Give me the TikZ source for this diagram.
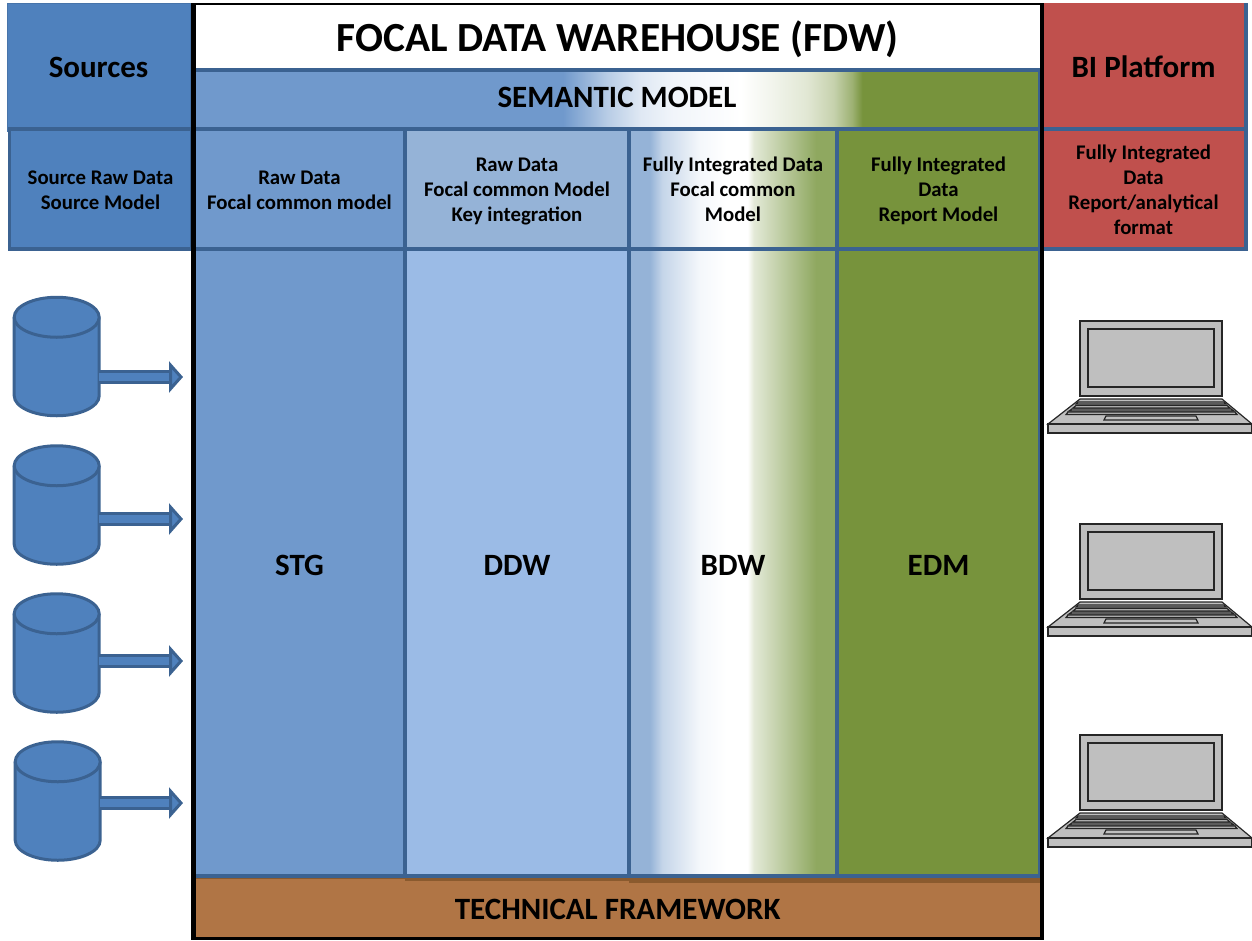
\documentclass[tikz,border=0pt]{standalone}
\usepackage{fontspec}
\setmainfont{Carlito}
\usetikzlibrary{matrix,positioning,arrows.meta}
\definecolor{srcblue}{HTML}{4F81BD}
\definecolor{edgeblue}{HTML}{3B6291}
\definecolor{stgblue}{HTML}{7099CC}
\definecolor{ddwhead}{HTML}{95B3D7}
\definecolor{ddwblue}{HTML}{9BBBE6}
\definecolor{edmgreen}{HTML}{77933C}
\definecolor{fadegreen}{HTML}{8FA860}
\definecolor{bired}{HTML}{C0504D}
\definecolor{techbrown}{HTML}{B07545}
\definecolor{techedge}{HTML}{8A5A2E}
\definecolor{lapgray}{HTML}{BFBFBF}
\pgfdeclarehorizontalshading{semanticfade}{100bp}{color(0bp)=(stgblue); color(46.8bp)=(stgblue); color(49.4bp)=(stgblue!50!white); color(51.4bp)=(stgblue!22!white); color(53.3bp)=(stgblue!10!white); color(57.3bp)=(white); color(59.2bp)=(edmgreen!10!white); color(61.2bp)=(edmgreen!22!white); color(62.8bp)=(edmgreen!42!white); color(63.9bp)=(edmgreen!72!white); color(64.5bp)=(edmgreen); color(100bp)=(edmgreen)}
\pgfdeclarehorizontalshading{bdwfade}{100bp}{color(0bp)=(ddwhead); color(30bp)=(ddwhead); color(33bp)=(ddwhead!55!white); color(42bp)=(white!90!ddwhead); color(48.5bp)=(white); color(53.5bp)=(white); color(55bp)=(fadegreen!25!white); color(70bp)=(fadegreen); color(100bp)=(fadegreen)}
\newcommand{\stacked}[2][-2.5pt]{\raisebox{#1}[\height][\depth]{\begin{tabular}{@{}c@{}}#2\end{tabular}}}
\begin{document}
\begin{tikzpicture}[x=1pt,y=-1pt,
            headbig/.style={font=\bfseries\fontsize{31}{35}\selectfont},
            headsmall/.style={font=\bfseries\fontsize{20.8}{25}\selectfont},
            box/.style={rectangle,draw=edgeblue,line width=3.5pt,anchor=north west,inner sep=0pt,outer sep=0pt},
            columns/.style={matrix of nodes,inner sep=0pt,line width=3.5pt,row sep=-\pgflinewidth,column sep=-\pgflinewidth,
               nodes={rectangle,draw=edgeblue,line width=3.5pt,inner sep=0pt},
               row 1/.style={nodes={minimum height=120pt,font=\bfseries\fontsize{20.8}{25}\selectfont}},
               row 2/.style={nodes={minimum height=627pt,text height=26pt,font=\bfseries\fontsize{31}{35}\selectfont}},
               column 1/.style={nodes={minimum width=211pt}},column 2/.style={nodes={minimum width=224pt}},
               column 3/.style={nodes={minimum width=208pt}},column 4/.style={nodes={minimum width=203pt}}},
            store/.pic={
               \node (-body)[rectangle,inner sep=0pt,outer sep=0pt,minimum width=85pt,minimum height=118.5pt] {};
               \path[draw=edgeblue,fill=srcblue,line width=3pt] (-42.5,-39.25) -- (-42.5,39.25) arc (180:0:42.5 and 20) -- (42.5,-39.25);
               \path[draw=edgeblue,fill=srcblue,line width=3pt] (0,-39.25) ellipse (42.5 and 20);
            },
            feed/.style={draw=edgeblue,line width=3pt,double=srcblue,double distance=8pt,-{Triangle[length=14pt,width=31pt,line width=3pt,color=edgeblue,fill=srcblue]}},
            wall/.style={draw=black,line width=5pt},
            laptop/.pic={
               \path[draw=black!85,fill=lapgray,line width=1.2pt] (0,0) rectangle (142,75);
               \path[draw=black!85,fill=lapgray,line width=1.5pt] (8,8) rectangle (134,66);
               \path[draw=black!85,fill=lapgray,line width=1.2pt] (0,78) -- (142,78) -- (172,103) -- (-32,103) -- cycle;
               \path[draw=black!85,fill=lapgray,line width=1.2pt] (-2,81) -- (144,81) -- (146,83) -- (-4,83) -- cycle;
               \path[draw=black!85,fill=lapgray,line width=1.2pt] (-4,84.5) -- (147,84.5) -- (150,87) -- (-7,87) -- cycle;
               \path[draw=black!85,fill=lapgray,line width=1.2pt] (-8,88) -- (151,88) -- (154,90) -- (-11,90) -- cycle;
               \path[draw=black!85,fill=lapgray,line width=1.2pt] (-12,91) -- (155,91) -- (157,93.5) -- (-14,93.5) -- cycle;
               \path[draw=black!85,fill=lapgray,line width=1.2pt] (26,95) -- (116,95) -- (118,99) -- (24,99) -- cycle;
               \path[draw=black!85,fill=lapgray,line width=1.2pt] (-32,103) rectangle (172,112);
            }]

            \useasboundingbox (0,0) rectangle (1252,940);

            \node (sources)[box,draw=srcblue!90!black,line width=1pt,fill=srcblue,minimum width=183pt,minimum height=128pt,headbig] at (7,3) {Sources};
            \node (srcmodel)[box,fill=srcblue,minimum width=182pt,minimum height=120pt,headsmall] at (9.5,129) {\stacked{Source Raw Data\\Source Model}};

            \node (biplat)[box,fill=bired,draw=bired,line width=1pt,minimum width=205pt,minimum height=128pt,headbig] at (1041,3) {BI Platform};
            \node (bimodel)[box,fill=bired,minimum width=205pt,minimum height=120pt,headsmall] at (1041,129) {\stacked{Fully Integrated\\Data\\Report/analytical\\format}};
            \draw[edgeblue,line width=3.5pt] (biplat.north east) -- (bimodel.north east);

            \node (title)[anchor=north west,fill=white,inner sep=0pt,minimum width=845pt,minimum height=69pt,font=\bfseries\fontsize{41.4}{46}\selectfont] at (195,5) {FOCAL DATA WAREHOUSE (FDW)};
            \node (semantic)[box,shading=semanticfade,minimum width=846pt,minimum height=59pt,headbig,text depth=4pt,text height=20pt] at (194,70) {SEMANTIC MODEL};

            \node (tech)[anchor=north west,fill=techbrown,inner sep=0pt,minimum width=845pt,minimum height=62pt,headbig] at (195,878) {TECHNICAL FRAMEWORK};
            \fill[techedge] (195,877) rectangle (405,879);
            \fill[techedge] (405,877) rectangle (629,880.5);
            \fill[techedge] (629,877) rectangle (1040,882.5);

            \matrix (first)[columns,anchor=north west] at (190.5,125.5)
            {
               |[fill=stgblue]| {\stacked{Raw Data\\Focal common model}} & |[fill=ddwhead]| {\stacked{Raw Data\\Focal common Model\\Key integration}} & |[shading=bdwfade]| {\stacked{Fully Integrated Data\\Focal common\\Model}} & |[fill=edmgreen]| {\stacked{Fully Integrated\\Data\\Report Model}}\\
               |[fill=stgblue]| {STG} & |[fill=ddwblue]| {DDW} & |[shading=bdwfade]| {BDW} & |[fill=edmgreen]| {EDM}\\
            };

            \draw[wall] (193,3) -- (193,940);
            \draw[wall,line width=4.5pt] (1042,3) -- (1042,940);
            \draw[wall,line width=1.5pt] (193,4) -- (1042,4);
            \draw[wall,line width=3pt] (193,938.5) -- (1042,938.5);

            \coordinate (in1) at (183,377);
            \coordinate (in2) at (183,519);
            \coordinate (in3) at (183,661);
            \coordinate (in4) at (183,803);

            \pic (src1) at (56.7,356.5) {store};
            \pic (src2) at (56.7,505) {store};
            \pic (src3) at (56.7,653) {store};
            \pic (src4) at (57.7,801) {store};

            \draw[feed] (src1-body.east |- in1) -- (in1);
            \draw[feed] (src2-body.east |- in2) -- (in2);
            \draw[feed] (src3-body.east |- in3) -- (in3);
            \draw[feed] (src4-body.east |- in4) -- (in4);

            \pic (lap1) at (1080,321) {laptop};
            \pic (lap2) at (1080,524) {laptop};
            \pic (lap3) at (1080,735) {laptop};
         \end{tikzpicture}
\end{document}
